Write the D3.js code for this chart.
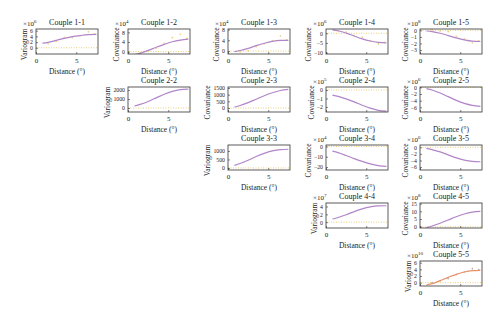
<!DOCTYPE html>
<html>
<head>
<meta charset="utf-8">
<title>Couple variograms</title>
<script src="https://d3js.org/d3.v7.min.js"></script>
<style>
  body { margin: 0; background: #fff; }
  text { font-family: "Liberation Serif", "DejaVu Serif", serif; fill: #222; }
</style>
</head>
<body>
<div id="chart"></div>
<script>
// panels of the upper triangle, read row by row
var pairs = ["1-1","1-2","1-3","1-4","1-5","2-2","2-3","2-4","2-5","3-3","3-4","3-5","4-4","4-5","5-5"];
var yLabels = ["Variogram","Covariance","Covariance","Covariance","Covariance",
               "Variogram","Covariance","Covariance","Covariance",
               "Variogram","Covariance","Covariance",
               "Variogram","Covariance",
               "Variogram"];
var exponents = [6,4,4,6,8, null,null,5,6, null,4,6, 7,8, 10];
var yTicks = [[0,2,4,6],[0,4,8],[0,4,8],[-10,-5,0],[-3,-2,-1,0],
              [0,1000,2000],[0,500,1000,1500],[-2,-1,0],[-6,-4,-2,0],
              [0,500,1000],[-20,-10,0],[-6,-4,-2,0],
              [0,2,4],[0,5,10,15],
              [0,2,4,6]];
var yLimits = [[-2.2,6.6],[-1,9.4],[-1.1,8.2],[-10.7,2.2],[-3.6,0.2],
               [-440,2330],[-300,1575],[-2.6,0.35],[-7.4,0.1],
               [-120,1350],[-23,1.5],[-6.9,0.7],
               [-1.5,4.9],[-0.8,15.4],
               [-1,6.5]];
var xTicks = [0, 5];
var xLimits = [0, 7.7];

// fitted model, sampled at these distances
var modelDist = [0.8, 1.5, 2.5, 3.5, 4.5, 5.5, 6.5, 7.5];
var modelValues = [
  [1.6, 1.9, 2.6, 3.3, 3.9, 4.3, 4.6, 4.7],
  [-1.3, -0.7, 0.5, 1.8, 3.0, 4.1, 4.8, 5.2],
  [-0.2, 0.2, 1.0, 2.0, 2.9, 3.6, 3.95, 4.0],
  [1.7, 1.3, 0.1, -1.4, -2.9, -4.0, -4.7, -5.0],
  [-0.1, -0.2, -0.45, -0.8, -1.15, -1.45, -1.65, -1.7],
  [220, 400, 730, 1130, 1530, 1840, 2030, 2100],
  [75, 190, 400, 660, 920, 1140, 1310, 1400],
  [-0.6, -0.75, -1.05, -1.4, -1.8, -2.15, -2.4, -2.5],
  [-0.4, -0.8, -1.7, -2.8, -3.9, -4.8, -5.4, -5.7],
  [150, 260, 450, 670, 860, 1000, 1080, 1100],
  [-4.5, -6, -8.8, -11.8, -14.6, -17, -18.7, -19.5],
  [-0.3, -0.7, -1.4, -2.3, -3.2, -3.9, -4.3, -4.4],
  [0.8, 1.2, 1.9, 2.7, 3.4, 3.9, 4.15, 4.2],
  [-0.5, 0.5, 2.3, 4.4, 6.5, 8.3, 9.5, 10],
  [-0.7, -0.3, 0.6, 1.6, 2.5, 3.2, 3.6, 3.7]
];

// experimental points, only where they stand out from the model
var lagDist = [1.5, 2.5, 3.5, 4.5, 5.5, 6.5, 7.3];
var lagValues = {
  "1-1": [1.4, 2.2, 3.6, 3.5, 4.2, 5.6, 4.8],
  "1-2": [-0.5, 0.3, 1.4, 3.5, 5.8, 7.2, 5.5],
  "1-3": [-0.3, 0.1, 1.6, 2.6, 3.8, 5.6, 4.2],
  "1-4": [1.2, 0.6, -1.0, -2.0, -3.8, -5.5, -4.6],
  "1-5": [0.1, -0.1, -0.2, -0.9, -1.3, -1.9, -1.6],
  "5-5": [0.0, 0.5, 1.2, 2.4, 3.2, 4.2, 3.9]
};

var W = 500, H = 323;
var colLeft = [36, 128, 228, 326, 420];
var rowTop = [29, 87, 145, 203, 261];
var boxW = 62, boxH = 25;

var svg = d3.select("#chart").append("svg")
  .attr("width", W).attr("height", H);

pairs.forEach(function(p, i) {
  var r = +p.split("-")[0] - 1, c = +p.split("-")[1] - 1;
  var g = svg.append("g")
    .attr("transform", "translate(" + colLeft[c] + "," + rowTop[r] + ")");

  var x = d3.scaleLinear().domain(xLimits).range([0, boxW]);
  var y = d3.scaleLinear().domain(yLimits[i]).range([boxH, 0]);

  g.append("clipPath").attr("id", "clip" + i)
    .append("rect").attr("width", boxW).attr("height", boxH);

  var plot = g.append("g").attr("clip-path", "url(#clip" + i + ")");
  var lineColor = p == "5-5" ? "#e8926a" : "#b285c8";
  var dotColor = p == "5-5" ? "#aaa" : "#e6c86e";

  // zero line
  plot.append("line")
    .attr("x1", 0).attr("x2", boxW)
    .attr("y1", y(0)).attr("y2", y(0))
    .attr("stroke", "#e6c86e").attr("stroke-width", 0.9)
    .attr("stroke-dasharray", "1,1.5");

  if (lagValues[p]) {
    plot.selectAll("circle")
      .data(lagValues[p])
      .enter().append("circle")
        .attr("cx", function(d, k) { return x(lagDist[k]); })
        .attr("cy", function(d) { return y(d); })
        .attr("r", 0.8)
        .attr("fill", dotColor);
  }

  var line = d3.line()
    .x(function(d, k) { return x(modelDist[k]); })
    .y(function(d) { return y(d); })
    .curve(d3.curveMonotoneX);
  plot.append("path")
    .attr("d", line(modelValues[i]))
    .attr("fill", "none")
    .attr("stroke", lineColor)
    .attr("stroke-width", 1.2);

  // axes, ticks pointing inwards
  var ax = g.append("g").attr("transform", "translate(0," + boxH + ")")
    .call(d3.axisBottom(x).tickValues(xTicks).tickSize(-2).tickPadding(4));
  var ay = g.append("g")
    .call(d3.axisLeft(y).tickValues(yTicks[i]).tickSize(-2).tickPadding(3)
      .tickFormat(function(d) { return d < 0 ? "\u2212" + (-d) : d; }));
  [ax, ay].forEach(function(a) {
    a.select(".domain").remove();
    a.selectAll("line").attr("stroke", "#333").attr("stroke-width", 0.6);
    a.selectAll("text").attr("fill", "#222")
      .style("font-family", "Liberation Serif");
  });
  ax.selectAll("text").style("font-size", "7px");
  ay.selectAll("text").style("font-size", "5.8px");

  g.append("rect")
    .attr("width", boxW).attr("height", boxH)
    .attr("fill", "none").attr("stroke", "#333").attr("stroke-width", 0.8);

  // labels
  g.append("text")
    .attr("x", boxW / 2).attr("y", -4)
    .attr("text-anchor", "middle")
    .style("font-size", "8px")
    .text("Couple " + p);

  g.append("text")
    .attr("x", boxW / 2).attr("y", boxH + 20)
    .attr("text-anchor", "middle")
    .style("font-size", "7.5px")
    .text("Distance (\u00b0)");

  var maxW = 0;
  ay.selectAll("text").each(function() {
    maxW = Math.max(maxW, this.getComputedTextLength());
  });
  g.append("text")
    .attr("transform", "translate(" + (-maxW - 6) + "," + (boxH / 2 + 3) + ") rotate(-90)")
    .attr("text-anchor", "middle")
    .style("font-size", "7.5px")
    .text(yLabels[i]);

  if (exponents[i] != null) {
    var e = g.append("text")
      .attr("x", -13).attr("y", -3)
      .style("font-size", "7px")
      .text("\u00d710");
    e.append("tspan")
      .attr("dy", -3)
      .style("font-size", "5px")
      .text(exponents[i]);
  }
});
</script>
</body>
</html>
